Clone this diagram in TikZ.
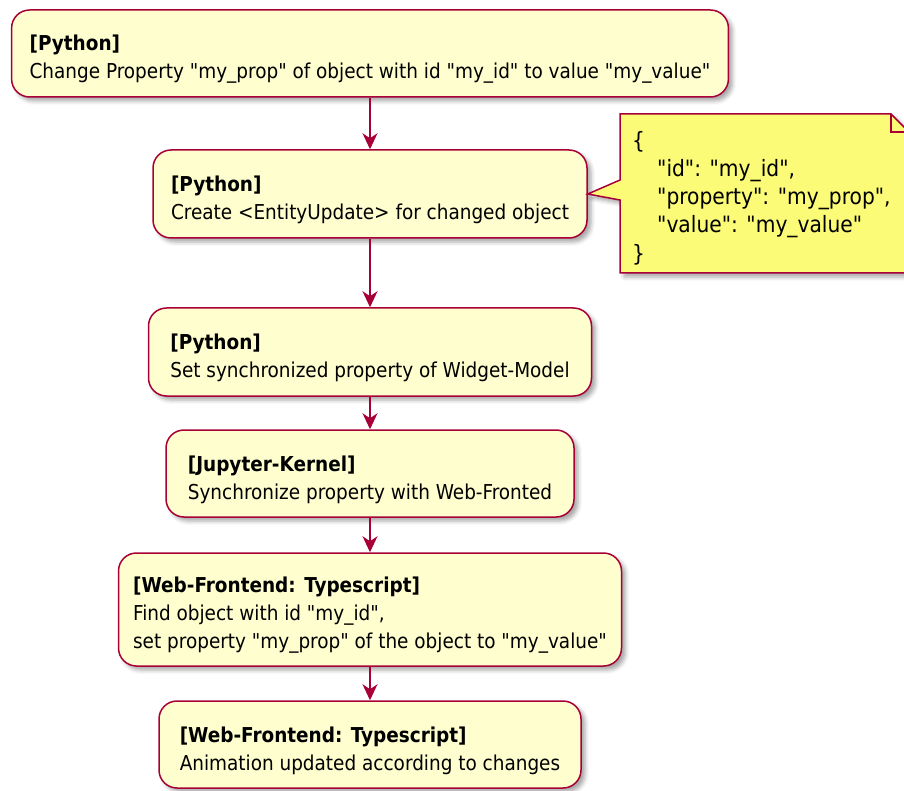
\documentclass[tikz,border=0pt]{standalone}
\usepackage{fontspec}
\setmainfont{DejaVu Sans Condensed}[Ligatures=TeXOff]
\usetikzlibrary{arrows.meta,shadows.blur}
\definecolor{actfill}{HTML}{FEFECE}
\definecolor{actline}{HTML}{A80036}
\definecolor{notefill}{HTML}{FBFB77}
% strut that lowers the first text line inside an activity box
\newcommand{\firstline}{\rule{0pt}{27.5pt}}
\begin{document}
\begin{tikzpicture}[x=1pt,y=-1pt,
  softshadow/.style={blur shadow={shadow xshift=4pt, shadow yshift=-4pt,
      shadow blur radius=4pt, shadow opacity=35}},
  act/.style={draw=actline, fill=actfill, line width=1.5pt, rounded corners=18pt,
      align=left, inner xsep=18pt, inner ysep=0pt,
      font=\fontsize{20.5}{28}\selectfont, softshadow},
  notetext/.style={align=left, inner sep=0pt, font=\fontsize{22.5}{28.2}\selectfont},
  flow/.style={draw=actline, line width=1.5pt,
      -{Stealth[length=16pt,width=15pt,inset=5pt]}}]
  \useasboundingbox (0,0) rectangle (904,791);
  \clip (0,0) rectangle (904,791);

  % activities
  \node[act, minimum width=716pt, minimum height=87pt] (a1) at (370,53.5)
    {\textbf{\firstline[Python]}\\Change Property "my\_prop" of object with id "my\_id" to value "my\_value"};
  \node[act, minimum width=433pt, minimum height=88pt] (a2) at (370,194)
    {\textbf{\firstline[Python]}\\Create <EntityUpdate> for changed object};
  \node[act, minimum width=443pt, minimum height=88pt] (a3) at (370,352)
    {\textbf{\firstline[Python]}\\Set synchronized property of Widget-Model};
  \node[act, minimum width=408pt, minimum height=87pt] (a4) at (370,473.5)
    {\textbf{\firstline[Jupyter-Kernel]}\\Synchronize property with Web-Fronted};
  \node[act, inner xsep=14pt, minimum width=503pt, minimum height=113pt] (a5) at (370,609.5)
    {\textbf{\firstline[Web-Frontend: Typescript]}\\Find object with id "my\_id",\\set property "my\_prop" of the object to "my\_value"};
  \node[act, minimum width=422pt, minimum height=87pt] (a6) at (370,744.5)
    {\textbf{\firstline[Web-Frontend: Typescript]}\\Animation updated according to changes};

  % note attached to a2
  \coordinate (ntl) at (620,114);
  \coordinate (nfold) at (891,114);
  \coordinate (nfoldb) at (909,132);
  \coordinate (nbr) at (909,273);
  \coordinate (nbl) at (620,273);
  \coordinate (nplo) at (620,200);
  \coordinate (nphi) at (620,180);
  \draw[actline, fill=notefill, line width=1.5pt, line join=miter, softshadow]
    (ntl) -- (nfold) -- (nfoldb) -- (nbr) -- (nbl) -- (nplo) -- (a2.east) -- (nphi) -- cycle;
  \draw[actline, line width=1.5pt] (nfold) |- (nfoldb);
  \node[notetext, anchor=north west] (note) at (632,131)
    {\{\\\hspace*{25pt}"id": "my\_id",\\\hspace*{25pt}"property": "my\_prop",\\\hspace*{25pt}"value": "my\_value"\\\}};

  % flow
  \draw[flow] (a1.south) -- (a2.north);
  \draw[flow] (a2.south) -- (a3.north);
  \draw[flow] (a3.south) -- (a4.north);
  \draw[flow] (a4.south) -- (a5.north);
  \draw[flow] (a5.south) -- (a6.north);
\end{tikzpicture}
\end{document}
